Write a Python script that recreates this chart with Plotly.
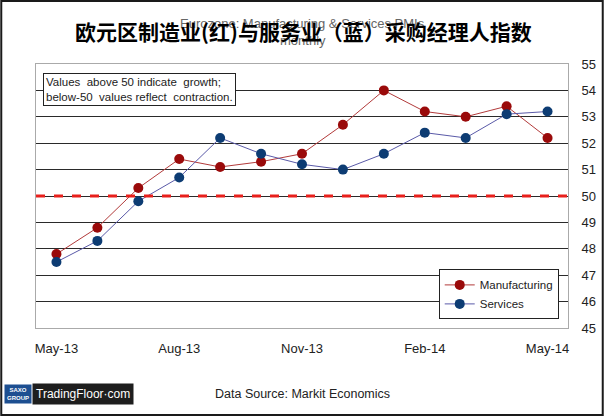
import plotly.graph_objects as go

# Eurozone PMIs, monthly
months = ["May-13", "Jun-13", "Jul-13", "Aug-13", "Sep-13", "Oct-13", "Nov-13",
          "Dec-13", "Jan-14", "Feb-14", "Mar-14", "Apr-14", "May-14"]
manufacturing = [47.8, 48.8, 50.3, 51.4, 51.1, 51.3, 51.6, 52.7, 54.0, 53.2, 53.0, 53.4, 52.2]
services = [47.5, 48.3, 49.8, 50.7, 52.2, 51.6, 51.2, 51.0, 51.6, 52.4, 52.2, 53.1, 53.2]
x_ticks = ["May-13", "Aug-13", "Nov-13", "Feb-14", "May-14"]
y_ticks = [45, 46, 47, 48, 49, 50, 51, 52, 53, 54, 55]
threshold = 50

font = "Liberation Sans"

fig = go.Figure()

fig.add_trace(go.Scatter(x=months, y=manufacturing, name="Manufacturing",
                         mode="lines+markers",
                         line=dict(color="#b23a3a", width=1),
                         marker=dict(color="#9a0a0a", size=10)))
fig.add_trace(go.Scatter(x=months, y=services, name="Services",
                         mode="lines+markers",
                         line=dict(color="#5a5aa8", width=1),
                         marker=dict(color="#0d3c73", size=10)))

# growth / contraction line
fig.add_shape(type="line", xref="paper", x0=0, x1=1, yref="y", y0=threshold, y1=threshold,
              line=dict(color="#e8201c", width=3, dash="dash"))

# outer frame of the picture
fig.add_shape(type="rect", xref="paper", yref="paper",
              x0=-35 / 536, x1=1 + 35 / 536, y0=-87 / 264, y1=1 + 63 / 264,
              line=dict(color="#1a1a1a", width=2))

fig.update_layout(
    width=608, height=416,
    margin=dict(l=36, r=36, t=64, b=88),
    paper_bgcolor="white", plot_bgcolor="white",
    font=dict(family=font, color="#222"),
    xaxis=dict(type="category", range=[-0.5, len(months) - 0.5],
               tickvals=x_ticks, showgrid=False,
               showline=True, mirror=True, linecolor="#aaaaaa", linewidth=1,
               ticks="", ticklabelstandoff=8,
               tickfont=dict(size=13, color="#222")),
    yaxis=dict(side="right", range=[45, 55], tickvals=y_ticks,
               showgrid=True, gridcolor="#2a2a2a", gridwidth=1,
               showline=True, mirror=True, linecolor="#aaaaaa", linewidth=1,
               ticks="", ticklabelstandoff=10, zeroline=False,
               tickfont=dict(size=13, color="#222")),
    showlegend=True,
    legend=dict(x=0.757, y=0.222, xanchor="left", yanchor="top",
                bgcolor="white", bordercolor="#222", borderwidth=1,
                font=dict(size=11.5, color="#222")),
)


def px_x(x):
    return (x - 36) / 536


def px_y(y):
    return (328 - y) / 264


# faint original English title underneath the Chinese one
fig.add_annotation(text="Eurozone: Manufacturing & Services PMIs", xref="paper", yref="paper",
                   x=px_x(305), y=px_y(23), xanchor="center", yanchor="middle",
                   showarrow=False, font=dict(size=13, color="#666"))
fig.add_annotation(text="monthly", xref="paper", yref="paper",
                   x=px_x(305), y=px_y(40), xanchor="center", yanchor="middle",
                   showarrow=False, font=dict(size=13, color="#666"))
fig.add_annotation(text="<b>欧元区制造业(红)与服务业（蓝）采购经理人指数</b>",
                   xref="paper", yref="paper", x=px_x(306), y=px_y(31),
                   xanchor="center", yanchor="middle", showarrow=False,
                   font=dict(family="Noto Sans CJK SC", size=21, color="#000"))

fig.add_annotation(text="Values  above 50 indicate  growth;<br>below-50  values reflect  contraction.",
                   xref="paper", yref="paper", x=px_x(43), y=px_y(73),
                   xanchor="left", yanchor="top", align="left", showarrow=False,
                   bgcolor="white", bordercolor="#222", borderwidth=1, borderpad=2,
                   font=dict(size=11.5, color="#222"))

fig.add_annotation(text="Data Source: Markit Economics", xref="paper", yref="paper",
                   x=px_x(305), y=px_y(394), xanchor="center", yanchor="middle",
                   showarrow=False, font=dict(size=12.5, color="#222"))

# TradingFloor logo
fig.add_annotation(text="<b>SAXO</b><br><b>GROUP</b>", xref="paper", yref="paper",
                   x=px_x(4), y=px_y(394), xanchor="left", yanchor="middle", showarrow=False,
                   bgcolor="#1d4f91", borderpad=2,
                   font=dict(size=6, color="white"))
fig.add_annotation(text="TradingFloor·com", xref="paper", yref="paper",
                   x=px_x(32), y=px_y(394), xanchor="left", yanchor="middle", showarrow=False,
                   bgcolor="#1e1e1e", borderpad=3,
                   font=dict(size=12, color="white"))

fig.write_html("out.html", config={"displayModeBar": False},
               post_script="document.body.style.margin = '0';")
